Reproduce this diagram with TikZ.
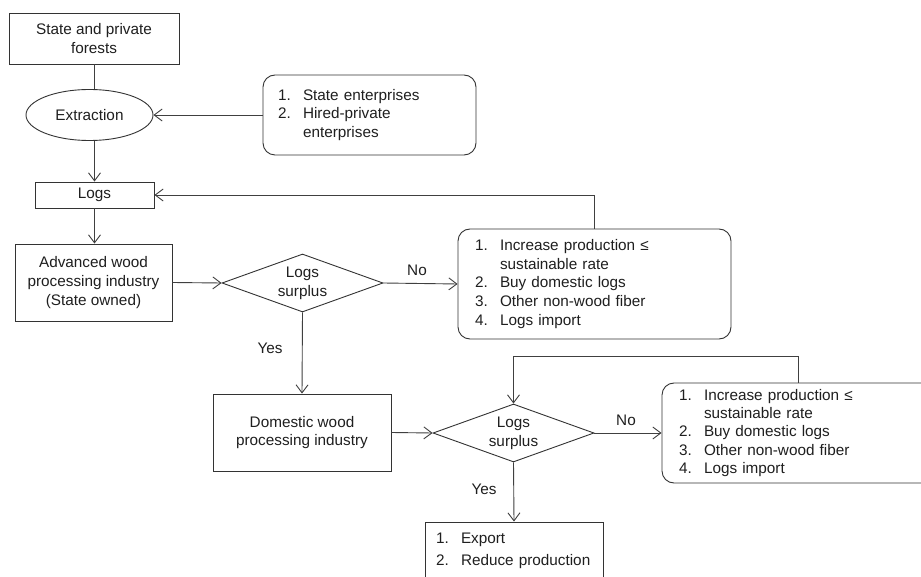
\documentclass[tikz,border=0pt]{standalone}
\usepackage{fontspec}
\setmainfont{Liberation Sans}
\usetikzlibrary{shapes.geometric,arrows.meta}
\begin{document}
\begin{tikzpicture}[x=1pt,y=1pt,
  txt/.style={font=\fontsize{15.3}{18.8}\selectfont, text=black!88},
  box/.style={txt, draw=black!80, line width=0.9pt, align=center, inner sep=0pt},
  rbox/.style={box, rounded corners=12pt, align=left},
  ell/.style={box, ellipse},
  dia/.style={box, diamond, aspect=2.8},
  arr/.style={draw=black!75, line width=0.9pt, -{Straight Barb[length=8pt,width=12pt]}},
  ln/.style={draw=black!75, line width=0.9pt},
  lbl/.style={txt}]
\newcommand{\itm}[1]{\makebox[25pt][l]{#1}}
\useasboundingbox (0,0) rectangle (921,-577);
\fill[white] (0,0) rectangle (921,-577);
\clip (0,0) rectangle (921,-577);

\node[box, minimum width=170, minimum height=51] (f) at (94,-38.5) {State and private\\forests};
\node[ell, minimum width=127, minimum height=51] (e) at (89.5,-115) {Extraction};
\node[rbox, minimum height=80, text width=183, inner xsep=15pt] (r1) at (369.5,-115)
  {\itm{1.}State enterprises\\ \itm{2.}Hired-private\\ \hspace*{25pt}enterprises};
\node[box, minimum width=119, minimum height=26] (l) at (94.5,-195) {Logs};
\node[box, minimum width=157, minimum height=77] (a) at (93.5,-282.5) {Advanced wood\\processing industry\\(State owned)};
\node[dia, minimum width=161, minimum height=58] (d1) at (302.5,-283) {Logs\\surplus};
\node[rbox, minimum height=110, text width=239, inner xsep=17pt] (r2) at (594.5,-284)
  {\itm{1.}Increase production ≤\\ \hspace*{25pt}sustainable rate\\ \itm{2.}Buy domestic logs\\ \itm{3.}Other non-wood fiber\\ \itm{4.}Logs import};
\node[box, minimum width=178, minimum height=77] (dom) at (302,-432.5) {Domestic wood\\processing industry};
\node[dia, minimum width=161, minimum height=58] (d2) at (513.5,-433) {Logs\\surplus};
\node[rbox, minimum height=100, text width=239, inner xsep=17pt, font=\fontsize{15.3}{18.3}\selectfont] (r3) at (798.5,-433)
  {\itm{1.}Increase production ≤\\ \hspace*{25pt}sustainable rate\\ \itm{2.}Buy domestic logs\\ \itm{3.}Other non-wood fiber\\ \itm{4.}Logs import};
\node[box, align=left, minimum height=58, text width=156, inner xsep=11pt, font=\fontsize{15.3}{22}\selectfont] (ex) at (514,-551)
  {\itm{1.}Export\\ \itm{2.}Reduce production};

\node[lbl] (no1) at (417,-270) {No};
\node[lbl] (yes1) at (270,-348) {Yes};
\node[lbl] (no2) at (626,-420) {No};
\node[lbl] (yes2) at (484,-489) {Yes};

\draw[ln] (f.south) -- (f.south |- e.north);
\draw[arr] (r1.west) -- (e.east);
\draw[arr] (l.north |- e.south) -- (l.north);
\draw[arr] (l.south) -- (l.south |- a.north);
\draw[arr] (a.east) -- (d1.west);
\draw[arr] (d1.east) -- (r2.west);
\draw[arr] (r2.north) |- (l.east);
\draw[arr] (d1.south) -- (dom.north);
\draw[arr] (dom.east) -- (d2.west);
\draw[arr] (d2.east) -- (r3.west);
\draw[arr] (r3.north) -- ++(0,26) -| (d2.north);
\draw[arr] (d2.south) -- (ex.north);
\end{tikzpicture}
\end{document}
